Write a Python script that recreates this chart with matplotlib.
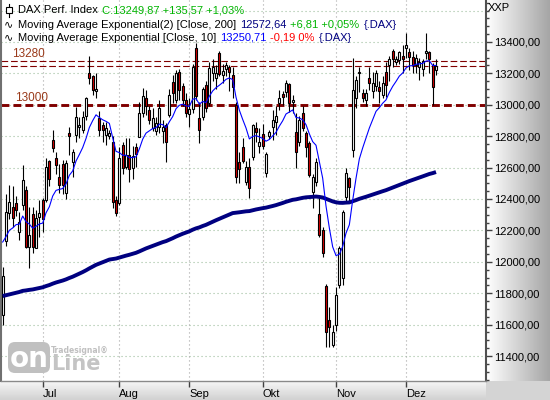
import numpy as np
import pandas as pd
import matplotlib
matplotlib.use('Agg')
import matplotlib.pyplot as plt
import matplotlib.transforms as mtrans
from matplotlib.colors import LinearSegmentedColormap
from matplotlib.patches import FancyBboxPatch, Rectangle
from matplotlib.lines import Line2D
from matplotlib.ticker import FixedLocator, MultipleLocator, FuncFormatter
from matplotlib.offsetbox import TextArea, HPacker, VPacker, AnnotationBbox, DrawingArea

plt.rcParams['font.family'] = ['Liberation Sans', 'DejaVu Sans']

# DAX daily candles, 15 Jun 2020 .. 14 Dec 2020
dates = pd.bdate_range('2020-06-15', '2020-12-14')

opens = [
    11660, 12130, 12310, 12352, 12373, 12192, 12362, 12458, 12097, 12303, 12086, 12288,
    12394, 12394, 12642, 12776, 12659, 12543, 12620, 12437, 12818, 12638, 12808, 12861,
    12840, 12930, 13200, 13183, 13090, 12914, 12871, 12808, 12800, 12765, 12394,
    12372, 12744, 12606, 12680, 12600, 12733, 12797, 12946, 13041, 12967, 12850, 12830,
    12861, 12830, 12871, 12935, 13147, 13030, 13211, 13120, 13031,
    12940, 12970, 13360, 12914, 12924, 13126, 13009, 13200, 13170, 13328, 13190, 13230,
    13240, 13190, 13000, 12638, 12733, 12510, 12606, 12670, 12850, 12740,
    12812, 12564, 12800, 12861, 12890, 13009, 13069, 13084, 13133, 13020, 12829, 12765,
    12946, 12818, 12759, 12447, 12510, 12305, 12203, 11846, 11630, 11470,
    11598, 11852, 11895, 12415, 12532, 12712, 13041, 13200, 13073, 13031, 13169, 13090,
    13120, 13110, 13060, 13211, 13253, 13345, 13270, 13285, 13310,
    13362, 13338, 13306, 13253, 13240, 13230, 13330, 13338, 13253, 13222,
]
highs = [
    11965, 12430, 12490, 12480, 12420, 12320, 12617, 12480, 12352, 12352, 12330, 12394,
    12405, 12660, 12650, 12840, 12700, 12620, 12650, 12650, 12861, 12720, 12988, 12920,
    12960, 13050, 13313, 13190, 13200, 12960, 12890, 12890, 12840, 12800, 12420,
    12733, 12760, 12790, 12790, 12740, 12755, 13020, 13105, 13095, 12990, 12978, 12925,
    13030, 12900, 12882, 13100, 13190, 13220, 13230, 13140, 13075,
    13040, 13260, 13395, 13020, 13110, 13150, 13270, 13290, 13250, 13340, 13260, 13270,
    13250, 13240, 13020, 12700, 12790, 12640, 12660, 12880, 12890, 12850,
    12880, 12700, 12840, 12966, 12990, 13094, 13090, 13155, 13140, 13060, 12945, 12930,
    12990, 12830, 12770, 12560, 12660, 12415, 12220, 11860, 11715, 11600,
    11840, 12100, 12330, 12595, 12540, 13297, 13180, 13240, 13100, 13100, 13240, 13210,
    13220, 13150, 13180, 13275, 13310, 13355, 13310, 13345, 13380,
    13455, 13360, 13340, 13320, 13300, 13290, 13457, 13345, 13265, 13290,
]
lows = [
    11600, 12100, 12270, 12220, 12290, 12140, 12330, 12085, 11959, 12055, 12086, 12160,
    12190, 12380, 12480, 12700, 12560, 12440, 12430, 12400, 12680, 12540, 12766, 12790,
    12820, 12900, 13130, 13060, 13040, 12800, 12760, 12744, 12780, 12340, 12290,
    12360, 12560, 12590, 12510, 12530, 12606, 12797, 12920, 12935, 12880, 12830, 12810,
    12820, 12755, 12638, 12920, 13010, 13010, 13030, 12990, 12920,
    12861, 12950, 13030, 12755, 12900, 12955, 12990, 13150, 13100, 13180, 13140, 13180,
    13090, 13040, 12500, 12500, 12630, 12490, 12404, 12650, 12760, 12690,
    12720, 12540, 12780, 12775, 12810, 12967, 13000, 13050, 12956, 12950, 12595, 12740,
    12830, 12670, 12540, 12341, 12480, 12160, 12030, 11455, 11460, 11455,
    11560, 11830, 11850, 12380, 12380, 12670, 12980, 13080, 13020, 12990, 13095, 13040,
    13090, 13010, 13040, 13050, 13150, 13240, 13250, 13260, 13200,
    13300, 13220, 13200, 13200, 13160, 13180, 13290, 13200, 13000, 13190,
]
closes = [
    11911, 12316, 12382, 12281, 12331, 12256, 12523, 12093, 12171, 12097, 12280, 12309,
    12270, 12606, 12526, 12725, 12617, 12490, 12490, 12628, 12800, 12702, 12925, 12872,
    12925, 13046, 13171, 13094, 13103, 12840, 12840, 12850, 12822, 12379, 12313,
    12660, 12600, 12680, 12591, 12674, 12687, 12946, 13058, 12993, 12901, 12914, 12881,
    12977, 12860, 12765, 13062, 13073, 13200, 13096, 13033, 12945,
    12974, 13243, 13057, 12842, 13100, 12980, 13237, 13240, 13202, 13194, 13218, 13255,
    13208, 13116, 12542, 12594, 12642, 12606, 12469, 12870, 12825, 12761,
    12740, 12689, 12829, 12903, 12928, 13041, 13050, 13137, 13009, 13028, 12702, 12903,
    12850, 12733, 12553, 12542, 12638, 12171, 12058, 11555, 11587, 11555,
    11789, 12086, 12320, 12564, 12478, 13094, 13158, 13211, 13041, 13073, 13137, 13140,
    13200, 13087, 13137, 13126, 13292, 13290, 13290, 13336, 13291,
    13382, 13306, 13253, 13298, 13271, 13278, 13345, 13290, 13114.30, 13249.87,
]

# moving average values on the first visible day
ema10_start = 12126
ema200_start = 11782

levels = [13280, 13000]
month_labels = ['Jul', 'Aug', 'Sep', 'Okt', 'Nov', 'Dez']


def ema(values, span, start):
    a = 2.0 / (span + 1)
    out = [start]
    for v in values[1:]:
        out.append(out[-1] + a * (v - out[-1]))
    return np.array(out)


W, H = 550, 400
fig = plt.figure(figsize=(5.5, 4), dpi=100)
fig.patch.set_facecolor('#d4d4d4')
T = mtrans.Affine2D().scale(1.0 / W, 1.0 / H) + fig.transFigure


def px(l, b, w, h):
    return [l / W, b / H, w / W, h / H]


# gradient panels (price scale on the right, date scale below)
rp = fig.add_axes(px(486, 19, 64, 381), zorder=0)
rp.imshow(np.linspace(0, 1, 64)[None, :], aspect='auto', extent=(0, 1, 0, 1),
          cmap=LinearSegmentedColormap.from_list('r', ['#ffffff', '#a6a6a6']))
rp.axis('off')
bp = fig.add_axes(px(0, 0, 486, 19), zorder=0)
bp.imshow(np.linspace(0, 1, 19)[:, None], aspect='auto', extent=(0, 1, 0, 1),
          cmap=LinearSegmentedColormap.from_list('b', ['#f6f6f6', '#d2d2d2']))
bp.axis('off')

ax = fig.add_axes(px(1, 19, 485, 381), zorder=2)
ax.set_facecolor('white')

x = np.arange(len(closes))
o, h, l, c = (np.array(v, dtype=float) for v in (opens, highs, lows, closes))
up = c >= o

ax.vlines(x, l, h, color='black', lw=0.8, zorder=3)
ax.bar(x, np.maximum(np.abs(c - o), 1), bottom=np.minimum(o, c), width=0.62,
       color=np.where(up, 'white', '#dd0000'), edgecolor='black', linewidth=0.8,
       zorder=4)

ax.plot(x, ema(c, 200, ema200_start), color='#000080', lw=2.8, zorder=5,
        solid_capstyle='butt')
ax.plot(x, ema(c, 10, ema10_start), color='#0000ff', lw=0.8, zorder=6)

# horizontal levels
ax.axhline(levels[1], color='#800000', lw=2.1, ls=(0, (2.7, 1.4)), zorder=2)
for y in (levels[0], closes[-1]):
    ax.axhline(y, color='#800000', lw=0.8, ls=(0, (6, 2.6)), zorder=2)
for y, dx in zip(levels, (11, 14)):
    ax.annotate(str(y), xy=(dx / 485, y), xycoords=ax.get_yaxis_transform(),
                xytext=(0, 6.5), textcoords='offset pixels', va='center',
                ha='left', fontsize=8.5, color='#9a3a1a')

ax.set_xlim(-0.51, 145.0)
ax.set_ylim(11241, 13667)

# axes
month_pos = [i for i in range(1, len(dates)) if dates[i].month != dates[i - 1].month]
ax.set_xticks(month_pos)
ax.set_xticklabels(month_labels)
for lbl in ax.get_xticklabels():
    lbl.set_ha('left')
ax.tick_params(axis='x', direction='out', length=4, width=1, color='#404040',
               labelsize=8, pad=1.5)

ax.yaxis.set_major_locator(FixedLocator(np.arange(11400, 13401, 200)))
ax.yaxis.set_minor_locator(MultipleLocator(50))
ax.yaxis.set_major_formatter(FuncFormatter(lambda v, p: f'{v:.2f}'.replace('.', ',')))
ax.yaxis.tick_right()
ax.tick_params(axis='y', which='major', direction='out', length=4, width=1,
               color='#404040', labelsize=8, pad=1.5)
ax.tick_params(axis='y', which='minor', direction='out', length=2, width=1,
               color='#404040')

for yv in np.arange(11400, 13601, 200):
    ax.axhline(yv, color='#9fbf9f', lw=0.8, ls=(0, (1, 2.6)), zorder=1)
for xv in month_pos:
    ax.axvline(xv, color='#a8a8a8', lw=0.8, ls=(0, (1, 2.6)), zorder=1)

ax.spines['top'].set_visible(False)
ax.spines['left'].set_color('#707070')
ax.spines['left'].set_linewidth(1.5)
ax.spines['bottom'].set_color('#8a8a8a')
ax.spines['bottom'].set_linewidth(1)
ax.spines['right'].set_color('#505050')
ax.spines['right'].set_linewidth(1.5)

fig.text(488, 392, 'XXP', transform=T, va='center', ha='left', fontsize=8)

# legend lines
green, navy, blue, red = '#00b400', '#000080', '#0000ff', '#ff0000'


def ta(s, col):
    return TextArea(s, textprops=dict(color=col, fontsize=8))


icon = DrawingArea(7, 9)
icon.add_artist(Line2D([3.5, 3.5], [0, 9], color='black', lw=0.8))
icon.add_artist(Rectangle((1.5, 2.5), 4, 4, fc='white', ec='black', lw=0.8))


def wave():
    return TextArea('\u223f', textprops=dict(color='black', fontsize=8,
                                              family='DejaVu Sans'))


line1 = HPacker(children=[icon, ta('DAX Perf. Index', 'black'),
                          ta('C:13249,87 +135,57 +1,03%', green)],
                sep=3, align='center', pad=0)
line2 = HPacker(children=[wave(), ta('Moving Average Exponential(2) [Close, 200]', 'black'),
                          ta('12572,64', navy), ta('+6,81 +0,05%', green),
                          ta('{.DAX}', navy)], sep=3, align='center', pad=0)
line3 = HPacker(children=[wave(), ta('Moving Average Exponential [Close, 10]', 'black'),
                          ta('13250,71', blue), ta('-0,19 0%', red),
                          ta('{.DAX}', navy)], sep=3, align='center', pad=0)
legend = VPacker(children=[line1, line2, line3], sep=2.2, align='left', pad=0)
ax.add_artist(AnnotationBbox(legend, (4, 396), xycoords='figure pixels',
                             box_alignment=(0, 1), frameon=False, pad=0,
                             zorder=8))

# watermark
fig.add_artist(FancyBboxPatch((8, 27), 42, 31, boxstyle='round,pad=0,rounding_size=7',
                              fc='#c0c0c0', ec='none', transform=T, zorder=10))
fig.text(29, 41, 'on', transform=T, ha='center', va='center', fontsize=20,
         weight='bold', color='white', family='DejaVu Sans', zorder=11)
fig.text(51, 30, 'Line', transform=T, ha='left', va='baseline', fontsize=15,
         weight='bold', color='#c4c4c4', family='DejaVu Sans', zorder=11)
fig.text(51, 47, 'Tradesignal\u00ae', transform=T, ha='left', va='baseline',
         fontsize=5.5, weight='bold', color='#c0c0c0', family='DejaVu Sans',
         zorder=11)

fig.savefig('out.png', dpi=100)
